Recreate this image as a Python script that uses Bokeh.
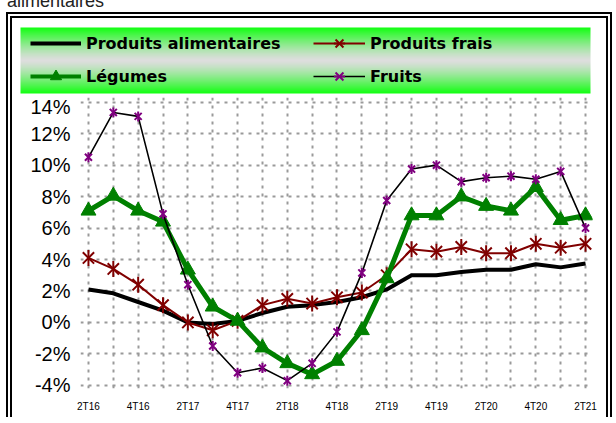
import numpy as np
from bokeh.plotting import figure
from bokeh.models import (Range1d, FixedTicker, Legend, LegendItem, Div,
                          ColumnDataSource)
from bokeh.layouts import column
from bokeh.embed import file_html
from bokeh.resources import INLINE

# ---------------- data ----------------
quarters = ["2T16", "3T16", "4T16", "1T17", "2T17", "3T17", "4T17", "1T18",
            "2T18", "3T18", "4T18", "1T19", "2T19", "3T19", "4T19", "1T20",
            "2T20", "3T20", "4T20", "1T21", "2T21"]
produits_alimentaires = [2.1, 1.85, 1.3, 0.75, 0.0, -0.1, 0.1, 0.6, 1.0, 1.1,
                         1.3, 1.6, 2.1, 3.0, 3.0, 3.2, 3.35, 3.35, 3.7, 3.5, 3.75]
produits_frais = [4.1, 3.4, 2.4, 1.1, 0.0, -0.5, 0.1, 1.1, 1.5, 1.2, 1.6, 1.9,
                  3.0, 4.65, 4.5, 4.8, 4.4, 4.4, 5.0, 4.75, 5.0]
legumes = [7.1, 8.05, 7.1, 6.4, 3.35, 1.0, 0.1, -1.6, -2.6, -3.3, -2.45, -0.5,
           2.8, 6.8, 6.8, 8.0, 7.4, 7.1, 8.6, 6.5, 6.8]
fruits = [10.5, 13.35, 13.1, 6.9, 2.4, -1.5, -3.2, -2.9, -3.7, -2.6, -0.6, 3.15,
          7.75, 9.75, 10.0, 8.95, 9.2, 9.3, 9.1, 9.6, 6.0]
y_ticks = [-4, -2, 0, 2, 4, 6, 8, 10, 12, 14]
labels = ["Produits alimentaires", "Produits frais", "Légumes", "Fruits"]

x = list(range(len(quarters)))
src = ColumnDataSource(dict(x=x, alim=produits_alimentaires, frais=produits_frais,
                            leg=legumes, fruits=fruits))

RED = "#800000"
GREEN = "#008000"
PURPLE = "#800080"

# ---------------- main chart ----------------
p = figure(width=594, height=322, title=None,
           x_range=Range1d(-0.32, 20.28), y_range=Range1d(-4.2, 14.3),
           output_backend="svg", toolbar_location=None,
           min_border_left=68, min_border_right=14, min_border_top=2,
           min_border_bottom=29, frame_align=False)
p.outline_line_color = None
p.background_fill_color = "white"
p.border_fill_color = "white"

p.xaxis.ticker = FixedTicker(ticks=x[::2])
p.xaxis.major_label_overrides = {i: quarters[i] for i in x[::2]}
p.yaxis.ticker = FixedTicker(ticks=y_ticks)
p.yaxis.major_label_overrides = {v: f"{v}%" for v in y_ticks}
p.xgrid.ticker = FixedTicker(ticks=x)
p.ygrid.ticker = FixedTicker(ticks=y_ticks)
p.grid.grid_line_color = "#9a9a9a"
p.grid.grid_line_dash = "3 5"
p.grid.grid_line_width = 2

p.axis.axis_line_color = None
p.axis.major_tick_line_color = None
p.axis.minor_tick_line_color = None
p.axis.major_tick_out = 0
p.axis.major_tick_in = 0
p.axis.major_label_text_font = "Liberation Sans"
p.axis.major_label_text_color = "black"
p.yaxis.major_label_text_font_size = "20px"
p.yaxis.major_label_standoff = 10
p.xaxis.major_label_text_font_size = "10px"
p.xaxis.major_label_standoff = 12

p.line("x", "alim", source=src, line_color="black", line_width=4)
p.line("x", "frais", source=src, line_color=RED, line_width=2)
p.scatter("x", "frais", source=src, marker="x", size=16, line_color=RED, line_width=2)
p.scatter("x", "frais", source=src, marker="dash", angle=np.pi / 2, size=16,
          line_color=RED, line_width=2)
p.line("x", "leg", source=src, line_color=GREEN, line_width=5)
p.scatter("x", "leg", source=src, marker="triangle", size=15, fill_color=GREEN,
          line_color=GREEN)
p.line("x", "fruits", source=src, line_color="black", line_width=1.6)
p.scatter("x", "fruits", source=src, marker="x", size=10, line_color=PURPLE, line_width=2)
p.scatter("x", "fruits", source=src, marker="dash", angle=np.pi / 2, size=10,
          line_color=PURPLE, line_width=2)

# ---------------- legend panel ----------------
# ranges are in pixel-like units; y starts at 100 so the legend sample
# renderers (real data, values < 20) stay outside the visible frame
LH = 77
lf = figure(width=594, height=LH, title=None,
            x_range=Range1d(0, 594), y_range=Range1d(100, 100 + LH),
            output_backend="svg", toolbar_location=None, min_border=0,
            x_axis_type=None, y_axis_type=None, frame_align=False)
lf.outline_line_color = None
lf.background_fill_color = "white"
lf.border_fill_color = "white"
lf.grid.visible = False

# vertical green -> grey -> green gradient background
rows, cols = 66, 570
t = np.abs(np.linspace(-1, 1, rows)) ** 1.3
green = np.array([20, 255, 20])
grey = np.array([222, 222, 222])
col = (grey[None, :] + (green - grey)[None, :] * t[:, None]).astype(np.uint8)
img = np.zeros((rows, cols), dtype=np.uint32)
view = img.view(dtype=np.uint8).reshape((rows, cols, 4))
view[:, :, 0] = col[:, 0][:, None]
view[:, :, 1] = col[:, 1][:, None]
view[:, :, 2] = col[:, 2][:, None]
view[:, :, 3] = 255
lf.image_rgba(image=[img], x=8, y=100 + LH - 75, dw=570, dh=66)

lsrc = ColumnDataSource(dict(x=x, alim=produits_alimentaires, frais=produits_frais,
                             leg=legumes, fruits=fruits))
kw = dict(source=lsrc)
la = lf.line("x", "alim", line_color="black", line_width=4, **kw)
lfr = lf.line("x", "frais", line_color=RED, line_width=2, **kw)
lfr1 = lf.scatter("x", "frais", marker="x", line_color=RED, line_width=2, **kw)
lfr2 = lf.scatter("x", "frais", marker="dash", angle=np.pi / 2, line_color=RED,
                  line_width=2, **kw)
ll = lf.line("x", "leg", line_color=GREEN, line_width=4, **kw)
llt = lf.scatter("x", "leg", marker="triangle", fill_color=GREEN, line_color=GREEN, **kw)
lfu = lf.line("x", "fruits", line_color="black", line_width=1.6, **kw)
lfu1 = lf.scatter("x", "fruits", marker="x", line_color=PURPLE, line_width=2, **kw)
lfu2 = lf.scatter("x", "fruits", marker="dash", angle=np.pi / 2, line_color=PURPLE,
                  line_width=2, **kw)

common = dict(orientation="vertical", glyph_height=28, label_height=28,
              spacing=5, label_standoff=5, padding=0, margin=0,
              border_line_color=None, background_fill_alpha=0,
              label_text_font="DejaVu Sans", label_text_font_style="bold",
              label_text_font_size="16px", label_text_color="black")
leg_y = LH - 11 - 61
leg1 = Legend(items=[LegendItem(label=labels[0], renderers=[la]),
                     LegendItem(label=labels[2], renderers=[ll, llt])],
              location=(18, leg_y), glyph_width=51, **common)
leg2 = Legend(items=[LegendItem(label=labels[1], renderers=[lfr, lfr1, lfr2]),
                     LegendItem(label=labels[3], renderers=[lfu, lfu1, lfu2])],
              location=(301, leg_y), glyph_width=52, **common)
lf.add_layout(leg1)
lf.add_layout(leg2)

framed = column(lf, p, styles={"border": "6px double black",
                               "border-bottom": "none",
                               "margin-left": "6px",
                               "background-color": "white"})
title = Div(text='<div style="position:relative; top:-16px; left:2px; '
                 'font-family:\'Liberation Sans\', Arial; font-size:18px; '
                 'white-space:nowrap; color:#222;">alimentaires</div>',
            width=600, height=2, styles={"overflow": "visible"})
root = column(title, framed)

open("out.html", "w").write(file_html(root, INLINE))
